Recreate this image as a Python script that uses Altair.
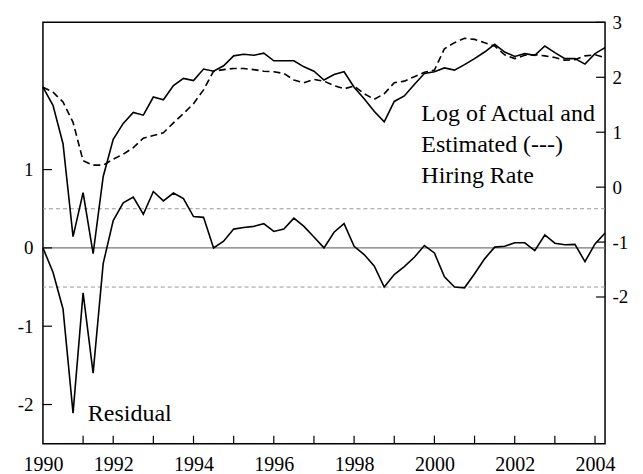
import altair as alt
import pandas as pd

# quarterly observations (index 0 = first quarter shown)
actual = [1.82, 1.49, 0.79, -0.90, -0.10, -1.21, 0.19, 0.87, 1.16, 1.36, 1.31, 1.64, 1.59, 1.85,
          1.98, 1.94, 2.15, 2.11, 2.21, 2.39, 2.42, 2.40, 2.44, 2.30, 2.30, 2.30, 2.19, 2.11,
          1.95, 2.05, 2.10, 1.82, 1.61, 1.38, 1.19, 1.56, 1.66, 1.87, 2.07, 2.10, 2.17, 2.13,
          2.23, 2.34, 2.46, 2.60, 2.46, 2.38, 2.43, 2.40, 2.57, 2.45, 2.34, 2.34, 2.24, 2.43, 2.54]
fitted = [1.82, 1.73, 1.55, 1.18, 0.48, 0.40, 0.40, 0.51, 0.60, 0.72, 0.89, 0.94, 0.99, 1.17,
          1.34, 1.52, 1.77, 2.11, 2.14, 2.16, 2.16, 2.14, 2.11, 2.10, 2.07, 1.95, 1.90, 1.96,
          1.93, 1.85, 1.79, 1.84, 1.70, 1.60, 1.70, 1.90, 1.93, 2.01, 2.09, 2.13, 2.52, 2.63,
          2.71, 2.69, 2.63, 2.57, 2.41, 2.34, 2.40, 2.41, 2.39, 2.36, 2.31, 2.32, 2.39, 2.41, 2.36]
residual = [0.0, -0.31, -0.78, -2.11, -0.575, -1.60, -0.20, 0.35, 0.575, 0.65, 0.43, 0.72, 0.60,
            0.70, 0.63, 0.40, 0.39, 0.0, 0.085, 0.24, 0.26, 0.275, 0.31, 0.21, 0.24, 0.38, 0.275,
            0.14, 0.0, 0.20, 0.31, 0.02, -0.085, -0.23, -0.50, -0.34, -0.24, -0.12, 0.03, -0.065,
            -0.37, -0.50, -0.51, -0.33, -0.14, 0.01, 0.02, 0.065, 0.065, -0.035, 0.165, 0.06,
            0.04, 0.045, -0.175, 0.05, 0.19]

year_label_pos = [0, 7, 15, 23, 31, 39, 47, 55]
year_labels = ["1990", "1992", "1994", "1996", "1998", "2000", "2002", "2004"]
x_tick_pos = [4, 7, 11, 15, 19, 23, 27, 31, 35, 39, 43, 47, 51, 55]
left_ticks = [-2, -1, 0, 1]
right_ticks = [-2, -1, 0, 1, 2, 3]
band_lines = [0.5, -0.5]
zero_line = [0]

W, H = 563, 422
FONT = "Liberation Serif"

df = pd.DataFrame({"i": list(range(len(actual))), "actual": actual,
                   "fitted": fitted, "residual": residual})

label_expr = "".join(f"datum.value == {p} ? '{t}' : " for p, t in zip(year_label_pos, year_labels)) + "''"

xscale = alt.Scale(domain=[0, len(actual) - 1], nice=False, zero=False)
xaxis = alt.Axis(values=year_label_pos, labelExpr=label_expr, ticks=False, domain=False,
                 grid=False, title=None, labelFont=FONT, labelFontSize=20, labelColor="black",
                 labelPadding=11, labelAngle=0, labelFlush=False)
X = lambda f: alt.X(f, scale=xscale, axis=xaxis)

lscale = alt.Scale(domain=[-2.5, 2.88], nice=False, zero=False)
laxis = alt.Axis(values=left_ticks, ticks=False, domain=False, grid=False, title=None,
                 labelFont=FONT, labelFontSize=19, labelColor="black", labelPadding=10,
                 orient="left", labelExpr="'' + datum.value")
rscale = alt.Scale(domain=[-4.67, 3.0], nice=False, zero=False)
raxis = alt.Axis(values=right_ticks, ticks=False, domain=False, grid=False, title=None,
                 labelFont=FONT, labelFontSize=19, labelColor="black", labelPadding=7,
                 orient="right", labelExpr="'' + datum.value")

base = alt.Chart(df)

resid_line = base.mark_line(color="black", strokeWidth=1.6).encode(
    x=X("i:Q"), y=alt.Y("residual:Q", scale=lscale, axis=laxis))
zero_rule = alt.Chart(pd.DataFrame({"v": zero_line})).mark_rule(
    color="#777777", strokeWidth=1.2).encode(y=alt.Y("v:Q", scale=lscale, axis=laxis))
band_rule = alt.Chart(pd.DataFrame({"v": band_lines})).mark_rule(
    color="#999999", strokeWidth=1, strokeDash=[4, 3]).encode(
    y=alt.Y("v:Q", scale=lscale, axis=laxis))
lticks = alt.Chart(pd.DataFrame({"v": left_ticks})).mark_rule(
    color="black", strokeWidth=1.2).encode(
    y=alt.Y("v:Q", scale=lscale, axis=laxis), x=alt.value(0), x2=alt.value(9))
xticks = alt.Chart(pd.DataFrame({"i": x_tick_pos})).mark_rule(
    color="black", strokeWidth=1.2).encode(
    x=X("i:Q"), y=alt.value(H), y2=alt.value(H - 8))
resid_text = alt.Chart(pd.DataFrame({"t": ["Residual"]})).mark_text(
    font=FONT, fontSize=24, align="left", baseline="alphabetic", color="black").encode(
    text="t:N", x=alt.value(45), y=alt.value(399))

left_group = alt.layer(zero_rule, band_rule, lticks, xticks, resid_line, resid_text)

act_line = base.mark_line(color="black", strokeWidth=1.6).encode(
    x=X("i:Q"), y=alt.Y("actual:Q", scale=rscale, axis=raxis))
fit_line = base.mark_line(color="black", strokeWidth=1.6, strokeDash=[7, 4]).encode(
    x=X("i:Q"), y=alt.Y("fitted:Q", scale=rscale, axis=raxis))
rticks = alt.Chart(pd.DataFrame({"v": right_ticks})).mark_rule(
    color="black", strokeWidth=1.2).encode(
    y=alt.Y("v:Q", scale=rscale, axis=raxis), x=alt.value(W - 9), x2=alt.value(W))
ann = alt.Chart(pd.DataFrame({"t": ["x"]})).mark_text(
    font=FONT, fontSize=24, align="left", baseline="alphabetic", color="black",
    lineHeight=31.3).encode(
    text=alt.value(["Log of Actual and", "Estimated (---)", "Hiring Rate"]),
    x=alt.value(379), y=alt.value(98.7))

right_group = alt.layer(act_line, fit_line, rticks, ann)

chart = alt.layer(left_group, right_group).resolve_scale(y="independent").properties(
    width=W, height=H,
    autosize=alt.AutoSizeParams(type="none"),
    padding={"left": 35, "top": 14, "right": 30, "bottom": 30},
).configure_view(stroke="black", strokeWidth=1.5)

chart.save("out.html", embed_options={"renderer": "svg", "actions": False})
